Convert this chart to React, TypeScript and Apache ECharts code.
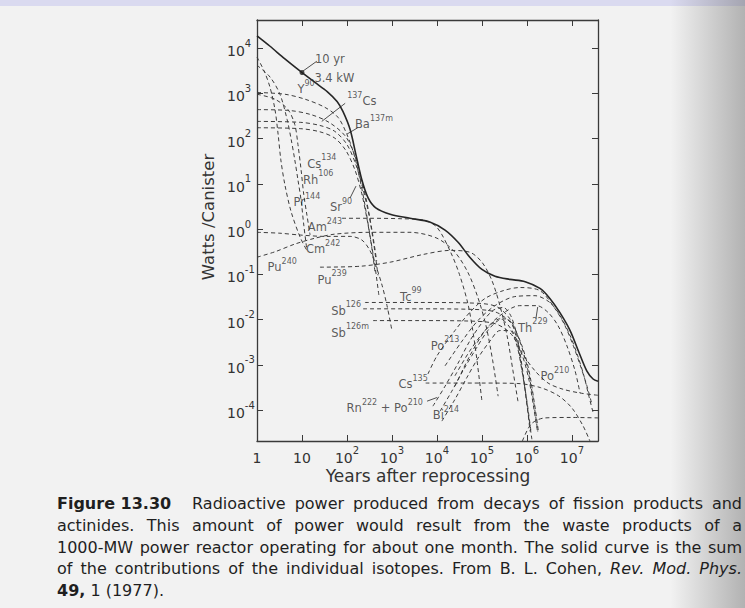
import React, { useEffect, useRef } from "react";
import * as echarts from "echarts";

// Tick exponents (labels are 1, 10, 10^2 ... and 10^-4 ... 10^4)
const xTickExponents = [0, 1, 2, 3, 4, 5, 6, 7];
const yTickExponents = [-4, -3, -2, -1, 0, 1, 2, 3, 4];

// All curve points: [log10(years after reprocessing), log10(watts / canister)]
const sumCurve = [
  [0.0, 4.27], [0.29, 4.04], [0.62, 3.76], [0.96, 3.49], [1.29, 3.24], [1.56, 3.04],
  [1.78, 2.82], [1.91, 2.6], [2.07, 2.2], [2.2, 1.64], [2.33, 1.09], [2.47, 0.69],
  [2.64, 0.47], [2.96, 0.33], [3.4, 0.24], [3.84, 0.16], [4.18, -0.02], [4.47, -0.29],
  [4.73, -0.62], [5.0, -0.89], [5.29, -1.04], [5.62, -1.11], [5.96, -1.16], [6.29, -1.31],
  [6.51, -1.53], [6.73, -1.84], [6.96, -2.24], [7.16, -2.73], [7.33, -3.13], [7.47, -3.31],
  [7.58, -3.36],
];
const tenYearPoint = [[1.0, 3.46]];

const y90 = [[0, 3.02], [0.62, 2.98], [1.07, 2.87], [1.51, 2.69], [1.8, 2.47], [2.0, 2.09], [2.16, 1.64], [2.29, 1.09], [2.4, 0.53], [2.51, -0.13], [2.62, -0.8], [2.71, -1.47]];
const ba137m = [[0, 2.64], [0.73, 2.62], [1.2, 2.53], [1.6, 2.36], [1.96, 2.06], [2.16, 1.66], [2.31, 1.15], [2.44, 0.6], [2.56, -0.05], [2.66, -0.7]];
const cs137 = [[0, 2.38], [0.96, 2.36], [1.4, 2.29], [1.73, 2.16], [2.0, 1.87], [2.2, 1.42], [2.36, 0.87], [2.49, 0.31], [2.6, -0.36], [2.69, -1.02]];
const sr90 = [[0, 2.24], [0.96, 2.22], [1.4, 2.15], [1.73, 2.01], [1.98, 1.73], [2.18, 1.3], [2.33, 0.78], [2.45, 0.2], [2.55, -0.4], [2.63, -1.0]];
const pr144 = [[0, 3.8], [0.16, 3.49], [0.29, 3.13], [0.4, 2.64], [0.47, 2.09], [0.53, 1.53], [0.62, 0.98], [0.76, 0.38], [0.96, -0.18], [1.13, -0.51]];
const rh106 = [[0, 3.62], [0.29, 3.36], [0.51, 2.98], [0.67, 2.42], [0.76, 1.98], [0.84, 1.53], [0.91, 1.09], [0.98, 0.64], [1.04, 0.09], [1.11, -0.47]];
const cs134 = [[0, 2.98], [0.4, 2.87], [0.69, 2.64], [0.84, 2.31], [0.91, 1.87], [0.98, 1.31], [1.04, 0.76], [1.11, 0.31], [1.18, -0.13]];
const am243 = [[1.89, 0.24], [2.5, 0.24], [3.2, 0.23], [3.7, 0.2], [4.0, 0.04], [4.3, -0.5], [4.5, -1.0], [4.7, -1.7], [4.85, -2.6], [5.0, -3.8]];
const cm242 = [[0, -0.07], [0.51, -0.09], [0.96, -0.13], [1.51, -0.16], [2.07, -0.16], [2.33, -0.24], [2.51, -0.47], [2.64, -0.8], [2.78, -1.24], [2.89, -1.69], [3.0, -2.24]];
const pu240 = [[0, -0.62], [0.4, -0.5], [0.84, -0.33], [1.29, -0.2], [1.73, -0.11], [2.51, -0.07], [3.4, -0.07], [4.0, -0.2], [4.4, -0.51], [4.69, -0.96], [4.91, -1.51], [5.09, -2.13], [5.24, -2.91], [5.36, -3.69]];
const pu239 = [[1.4, -0.84], [2.29, -0.82], [2.96, -0.73], [3.69, -0.56], [4.29, -0.47], [4.73, -0.51], [5.0, -0.73], [5.22, -1.13], [5.4, -1.69], [5.56, -2.36], [5.69, -3.13], [5.8, -3.8]];
const tc99 = [[2.4, -1.62], [3.6, -1.62], [4.7, -1.63], [5.3, -1.7], [5.62, -1.98], [5.84, -2.47], [6.0, -3.02], [6.13, -3.69], [6.24, -4.47]];
const sb126 = [[2.36, -1.76], [3.6, -1.76], [4.7, -1.77], [5.3, -1.83], [5.65, -2.08], [5.88, -2.55], [6.04, -3.1], [6.16, -3.8], [6.26, -4.5]];
const sb126m = [[2.58, -2.02], [3.6, -2.02], [4.7, -2.03], [5.3, -2.09], [5.66, -2.33], [5.9, -2.8], [6.05, -3.35], [6.16, -4.0], [6.24, -4.5]];
const cs135 = [[3.75, -3.4], [5.0, -3.4], [5.8, -3.41], [6.3, -3.5], [6.7, -3.68], [7.0, -3.95], [7.25, -4.35], [7.4, -4.68]];
const np237 = [[5.9, -4.68], [6.1, -4.3], [6.4, -4.17], [7.0, -4.16], [7.58, -4.17]];
const po213 = [[3.8, -3.2], [4.0, -2.8], [4.4, -2.24], [4.73, -1.84], [5.07, -1.53], [5.47, -1.36], [5.84, -1.29], [6.29, -1.36], [6.62, -1.75], [6.84, -2.12], [7.04, -2.6], [7.2, -3.05], [7.33, -3.45], [7.44, -3.85]];
const bi213 = [[4.18, -3.02], [4.56, -2.47], [4.91, -2.02], [5.29, -1.69], [5.73, -1.49], [6.18, -1.47], [6.51, -1.62], [6.73, -1.9], [6.96, -2.35], [7.13, -2.8], [7.27, -3.25], [7.38, -3.7], [7.47, -4.05]];
const th229 = [[4.4, -3.47], [4.73, -2.8], [5.07, -2.24], [5.4, -1.91], [5.84, -1.69], [6.22, -1.69], [6.47, -1.84], [6.69, -2.13], [6.89, -2.58], [7.07, -3.13], [7.18, -3.62]];
const rn222 = [[3.91, -3.91], [4.18, -3.47], [4.47, -2.96], [4.73, -2.47], [5.0, -2.07], [5.24, -1.8], [5.47, -1.73], [5.64, -1.91], [5.78, -2.36], [5.89, -3.02], [5.98, -3.69], [6.07, -4.47]];
const ra226 = [[4.07, -4.02], [4.33, -3.58], [4.6, -3.09], [4.87, -2.64], [5.13, -2.24], [5.36, -2.02], [5.56, -1.98], [5.71, -2.2], [5.82, -2.69], [5.93, -3.36], [6.02, -4.02], [6.11, -4.64]];
const bi214 = [[4.11, -4.24], [4.4, -3.76], [4.67, -3.27], [4.93, -2.82], [5.18, -2.47], [5.4, -2.24], [5.62, -2.24], [5.78, -2.58], [5.89, -3.13], [6.0, -3.8], [6.09, -4.47]];
const po210 = [[4.4, -3.24], [4.73, -2.69], [5.07, -2.24], [5.4, -1.98], [5.67, -2.24], [5.89, -2.73], [6.18, -3.13], [6.47, -3.4], [6.78, -3.53], [7.18, -3.62], [7.58, -3.67]];

const dashedCurves = [
  y90, ba137m, cs137, sr90, pr144, rh106, cs134, am243, cm242, pu240, pu239,
  tc99, sb126, sb126m, cs135, np237, po213, bi213, th229, rn222, ra226, bi214, po210,
];

// Short solid pointer lines from labels to curves (same log coordinates)
const leaderLines = [
  [[1.33, 3.71], [1.02, 3.49]],
  [[1.96, 2.78], [1.44, 2.38]],
  [[2.24, 2.24], [2.0, 2.1]],
  [[2.07, 0.69], [2.2, 0.95]],
  [[3.78, -3.8], [4.0, -3.72]],
  [[6.2, -1.98], [6.24, -1.72]],
];

// Curve labels: rich text and anchor point in log coordinates
const curveLabels: [string, number, number][] = [
  ["{n|10 yr}", 1.62, 3.8],
  ["{n|3.4 kW}", 1.72, 3.38],
  ["{n|Y}{s|90}", 1.09, 3.13],
  ["{s|137}{n|Cs}", 2.33, 2.87],
  ["{n|Ba}{s|137m}", 2.6, 2.36],
  ["{n|Cs}{s|134}", 1.44, 1.49],
  ["{n|Rh}{s|106}", 1.36, 1.13],
  ["{n|Pr}{s|144}", 1.11, 0.64],
  ["{n|Sr}{s|90}", 1.87, 0.53],
  ["{n|Am}{s|243}", 1.51, 0.09],
  ["{n|Cm}{s|242}", 1.47, -0.4],
  ["{n|Pu}{s|240}", 0.56, -0.8],
  ["{n|Pu}{s|239}", 1.67, -1.07],
  ["{n|Tc}{s|99}", 3.42, -1.45],
  ["{n|Sb}{s|126}", 1.98, -1.76],
  ["{n|Sb}{s|126m}", 2.07, -2.24],
  ["{n|Po}{s|213}", 4.18, -2.53],
  ["{n|Cs}{s|135}", 3.47, -3.38],
  ["{n|Rn}{s|222}{n| + Po}{s|210}", 2.84, -3.91],
  ["{n|Bi}{s|214}", 4.2, -4.07],
  ["{n|Th}{s|229}", 6.13, -2.13],
  ["{n|Po}{s|210}", 6.62, -3.2],
];

const captionLines = [
  "Figure\u00a013.30 Radioactive power produced from decays of fission products and",
  "actinides. This amount of power would result from the waste products of a",
  "1000-MW power reactor operating for about one month. The solid curve is the sum",
  "of the contributions of the individual isotopes. From B. L. Cohen, Rev. Mod. Phys.",
  "49, 1 (1977).",
];
const boldWords = ["Figure\u00a013.30", "49,"];
const italicWords = ["Rev.", "Mod.", "Phys."];

const INK = "#333";
const FONT = "DejaVu Sans";

function buildCaption() {
  const ctx = document.createElement("canvas").getContext("2d") as CanvasRenderingContext2D;
  const size = 16;
  const x0 = 57;
  const x1 = 742;
  const ys = [503, 525, 547, 568.5, 590];
  const els: any[] = [];
  captionLines.forEach((line, li) => {
    const words = line.split(" ");
    const info = words.map((w) => {
      const bold = boldWords.includes(w);
      const italic = italicWords.includes(w);
      ctx.font = `${italic ? "italic " : ""}${bold ? "bold " : ""}${size}px "${FONT}"`;
      return { w, bold, italic, width: ctx.measureText(w).width };
    });
    const justify = li < captionLines.length - 1;
    const total = info.reduce((a, b) => a + b.width, 0);
    const extraFirst = li === 0 ? 12 : 0;
    ctx.font = `${size}px "${FONT}"`;
    const space = ctx.measureText(" ").width;
    const gap = justify ? (x1 - x0 - total - extraFirst) / (info.length - 1) : space;
    let x = x0;
    info.forEach((it, i) => {
      els.push({
        type: "text",
        x,
        y: ys[li],
        silent: true,
        style: {
          text: it.w,
          fontSize: size,
          fontFamily: FONT,
          fontWeight: it.bold ? "bold" : "normal",
          fontStyle: it.italic ? "italic" : "normal",
          fill: "#1f1f1f",
          align: "left",
          verticalAlign: "middle",
        },
      });
      x += it.width + gap + (i === 0 ? extraFirst : 0);
    });
  });
  return els;
}

export default function App() {
  const ref = useRef<HTMLDivElement>(null);
  useEffect(() => {
    if (!ref.current) return;
    const chart = echarts.init(ref.current, null, { renderer: "svg" });
    const tickRich = {
      b: { fontSize: 14, fontFamily: FONT, color: INK, lineHeight: 20, verticalAlign: "bottom" },
      e: { fontSize: 10, fontFamily: FONT, color: INK, lineHeight: 8, verticalAlign: "top" },
    };
    const fmtX = (v: number) => (v === 0 ? "{b|1}" : v === 1 ? "{b|10}" : `{b|10}{e|${v}}`);
    const fmtY = (v: number) => `{b|10}{e|${v}}`;
    const axisLine = { show: true, onZero: false, lineStyle: { color: "#3a3a3a", width: 1.3 } };
    const tick = (vals: number[]) => ({ show: true, inside: true, length: 6, customValues: vals, lineStyle: { color: "#3a3a3a", width: 1 } });

    const series: any[] = [];
    dashedCurves.forEach((d) => {
      series.push({
        type: "line",
        data: d,
        showSymbol: false,
        smooth: 0.3,
        silent: true,
        lineStyle: { color: "#3c3c3c", width: 1, type: [4, 3] },
        z: 2,
      });
    });
    leaderLines.forEach((d) => {
      series.push({
        type: "line",
        data: d,
        showSymbol: false,
        silent: true,
        lineStyle: { color: "#3c3c3c", width: 0.9 },
        z: 2,
      });
    });
    series.push({
      type: "line",
      data: sumCurve,
      showSymbol: false,
      smooth: 0.3,
      silent: true,
      lineStyle: { color: "#262626", width: 1.6 },
      z: 3,
    });
    series.push({
      type: "scatter",
      data: tenYearPoint,
      symbolSize: 5,
      itemStyle: { color: "#222" },
      silent: true,
      z: 4,
    });
    series.push({
      type: "scatter",
      symbolSize: 0,
      silent: true,
      z: 5,
      itemStyle: { color: INK },
      data: curveLabels.map(([t, x, y]) => ({ value: [x, y], label: { formatter: t } })),
      label: {
        show: true,
        position: "inside",
        color: INK,
        textBorderWidth: 0,
        rich: {
          n: { fontSize: 11.5, fontFamily: FONT, color: INK, textBorderWidth: 0, lineHeight: 16, verticalAlign: "bottom" },
          s: { fontSize: 8, fontFamily: FONT, color: INK, textBorderWidth: 0, lineHeight: 8, verticalAlign: "top" },
        },
      },
    });

    chart.setOption({
      animation: false,
      grid: { left: 257, top: 20, width: 341, height: 421 },
      xAxis: [
        {
          type: "value", min: 0, max: 7.58, position: "bottom",
          axisLine, axisTick: tick(xTickExponents),
          axisLabel: { customValues: xTickExponents, formatter: fmtX, rich: tickRich, margin: 4 },
          splitLine: { show: false },
        },
        {
          type: "value", min: 0, max: 7.58, position: "top",
          axisLine, axisTick: tick(xTickExponents),
          axisLabel: { show: false }, splitLine: { show: false },
        },
      ],
      yAxis: [
        {
          type: "value", min: -4.68, max: 4.62, position: "left",
          axisLine, axisTick: tick(yTickExponents),
          axisLabel: { customValues: yTickExponents, formatter: fmtY, rich: tickRich, align: "left", margin: 30 },
          splitLine: { show: false },
        },
        {
          type: "value", min: -4.68, max: 4.62, position: "right",
          axisLine, axisTick: tick(yTickExponents),
          axisLabel: { show: false }, splitLine: { show: false },
        },
      ],
      graphic: [
        {
          type: "text", x: 208, y: 217, rotation: Math.PI / 2, silent: true,
          style: { text: "Watts /Canister", fontSize: 16.5, fontFamily: FONT, fill: INK, align: "center", verticalAlign: "middle" },
        },
        {
          type: "text", x: 428, y: 476, silent: true,
          style: { text: "Years after reprocessing", fontSize: 17, fontFamily: FONT, fill: INK, align: "center", verticalAlign: "middle" },
        },
        ...buildCaption(),
      ],
      series,
    });
    return () => chart.dispose();
  }, []);
  return (
    <div
      ref={ref}
      style={{
        position: "absolute",
        left: 0,
        top: 0,
        width: 745,
        height: 608,
        background:
          "linear-gradient(to right, rgba(0,0,0,0) 0%, rgba(0,0,0,0) 90%, rgba(100,100,100,0.45) 100%), linear-gradient(to bottom, #dadaf0 0px, #dadaf0 6px, #f2f2f2 6px, #f2f2f2 100%)",
      }}
    />
  );
}
